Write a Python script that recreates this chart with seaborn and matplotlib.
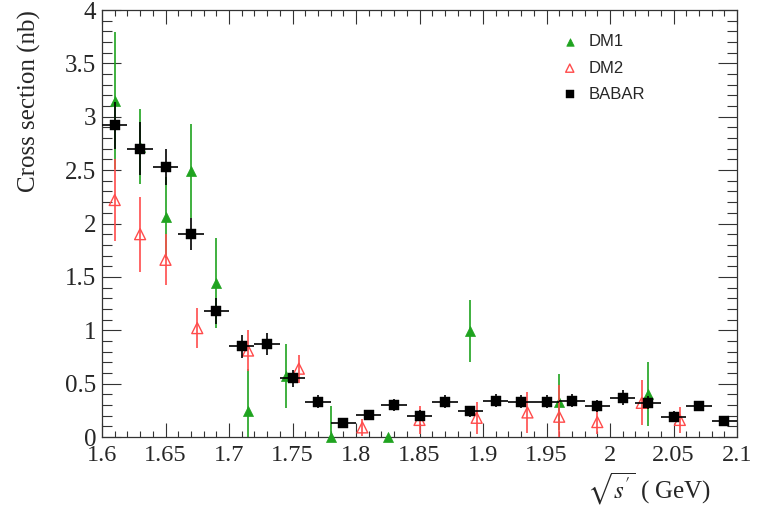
import matplotlib
matplotlib.use("Agg")
import matplotlib.pyplot as plt
import seaborn as sns
from matplotlib.ticker import MultipleLocator, FormatStrFormatter

# BABAR: 20 MeV bins
babar_x = [1.61, 1.63, 1.65, 1.67, 1.69, 1.71, 1.73, 1.75, 1.77, 1.79,
           1.81, 1.83, 1.85, 1.87, 1.89, 1.91, 1.93, 1.95, 1.97, 1.99,
           2.01, 2.03, 2.05, 2.07, 2.09]
babar_y = [2.92, 2.70, 2.53, 1.90, 1.18, 0.85, 0.87, 0.55, 0.33, 0.13,
           0.21, 0.30, 0.20, 0.33, 0.24, 0.34, 0.33, 0.33, 0.34, 0.29,
           0.37, 0.32, 0.19, 0.29, 0.15]
babar_err = [0.22, 0.25, 0.17, 0.15, 0.12, 0.11, 0.10, 0.08, 0.06, 0.03,
             0.04, 0.06, 0.05, 0.06, 0.05, 0.06, 0.06, 0.06, 0.06, 0.06,
             0.07, 0.06, 0.05, 0.05, 0.04]
babar_halfwidth = 0.01

# DM1
dm1_x = [1.61, 1.63, 1.65, 1.67, 1.69, 1.715, 1.745, 1.78, 1.825, 1.89, 1.96, 2.03]
dm1_y = [3.15, 2.72, 2.06, 2.49, 1.44, 0.24, 0.57, 0.0, 0.0, 0.99, 0.33, 0.40]
dm1_err = [0.64, 0.35, 0.38, 0.44, 0.42, 0.40, 0.30, 0.29, 0.0, 0.29, 0.26, 0.30]

# DM2
dm2_x = [1.61, 1.63, 1.65, 1.675, 1.715, 1.755, 1.805, 1.85, 1.895, 1.935,
         1.96, 1.99, 2.025, 2.055]
dm2_y = [2.22, 1.90, 1.66, 1.02, 0.81, 0.64, 0.09, 0.16, 0.18, 0.23,
         0.19, 0.14, 0.32, 0.16]
dm2_err = [0.38, 0.35, 0.24, 0.19, 0.19, 0.13, 0.08, 0.13, 0.15, 0.19,
           0.30, 0.11, 0.21, 0.12]

x_ticks = [1.6, 1.65, 1.7, 1.75, 1.8, 1.85, 1.9, 1.95, 2.0, 2.05, 2.1]
y_ticks = [0, 0.5, 1, 1.5, 2, 2.5, 3, 3.5, 4]

GREEN = "#1fa31f"
RED = "#ff4b4b"
BLACK = "#000000"

sns.set_style("ticks")
plt.rcParams["font.family"] = ["Liberation Serif", "DejaVu Serif"]
plt.rcParams["mathtext.fontset"] = "stix"

W, H = 763, 508
fig = plt.figure(figsize=(W / 100, H / 100), dpi=100)
ax = fig.add_axes([102 / W, 1 - 437 / H, 635 / W, 427 / H])

# DM1: filled triangles
ax.errorbar(dm1_x, dm1_y, yerr=dm1_err, fmt="none", ecolor=GREEN,
            elinewidth=1.2, capsize=0, zorder=2)
sns.scatterplot(x=dm1_x, y=dm1_y, marker="^", s=52, color=GREEN,
                edgecolor=GREEN, linewidth=0.5, label="DM1", ax=ax,
                clip_on=False, zorder=3)

# DM2: open triangles
ax.errorbar(dm2_x, dm2_y, yerr=dm2_err, fmt="none", ecolor=RED,
            elinewidth=1.2, capsize=0, zorder=4)
sns.scatterplot(x=dm2_x, y=dm2_y, marker="^", s=62, color=RED,
                facecolor="none", edgecolor=RED, linewidth=1.0,
                label="DM2", ax=ax, clip_on=False, zorder=5)

# BABAR: squares with bin-width bars
ax.errorbar(babar_x, babar_y, yerr=babar_err, xerr=babar_halfwidth,
            fmt="none", ecolor=BLACK, elinewidth=1.2, capsize=0, zorder=6)
sns.scatterplot(x=babar_x, y=babar_y, marker="s", s=58, color=BLACK,
                edgecolor=BLACK, linewidth=0.3, label="BABAR", ax=ax,
                zorder=7)

ax.set_xlim(1.6, 2.1)
ax.set_ylim(0, 4)
ax.set_xticks(x_ticks)
ax.set_yticks(y_ticks)
ax.xaxis.set_minor_locator(MultipleLocator(0.01))
ax.yaxis.set_minor_locator(MultipleLocator(0.1))
ax.xaxis.set_major_formatter(FormatStrFormatter("%g"))
ax.yaxis.set_major_formatter(FormatStrFormatter("%g"))
ax.set_xlabel("")
ax.set_ylabel("")

ax.tick_params(which="both", direction="in", top=True, right=True,
               color="#333333", width=0.8)
ax.tick_params(axis="x", which="major", length=10, pad=6, labelsize=17.5)
ax.tick_params(axis="x", which="minor", length=4.5)
ax.tick_params(axis="y", which="major", length=14, pad=4, labelsize=18)
ax.tick_params(axis="y", which="minor", length=7)
for sp in ax.spines.values():
    sp.set_color("#333333")
    sp.set_linewidth(0.9)

leg = ax.legend(loc="upper left", bbox_to_anchor=(0.713, 0.959),
                frameon=False, handlelength=1.0, handletextpad=0.64,
                labelspacing=0.68, borderaxespad=0, markerscale=0.75,
                prop={"family": "Liberation Sans", "size": 12})

fig.text(649 / W, 1 - 489 / H, r"$\sqrt{s'}$ ( GeV)", ha="center",
         va="center", fontsize=18)
fig.text(29 / W, 1 - 10 / H, "Cross section (nb)", rotation=90,
         ha="center", va="top", fontsize=18)

fig.savefig("out.png", dpi=100)
